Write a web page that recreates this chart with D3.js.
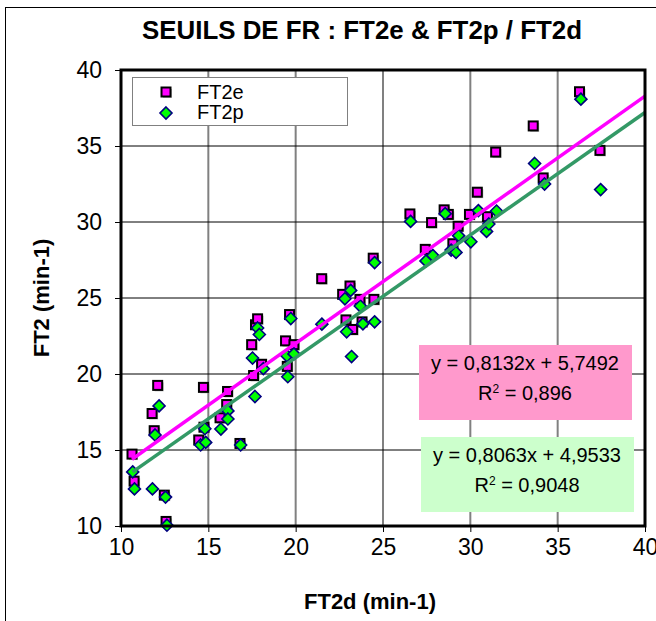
<!DOCTYPE html>
<html>
<head>
<meta charset="utf-8">
<script src="https://cdn.jsdelivr.net/npm/d3@7/dist/d3.min.js"></script>
<style>
  body { margin: 0; background: #fff; }
  svg text { font-family: "Liberation Sans", Arial, sans-serif; }
</style>
</head>
<body>
<div id="chart"></div>
<script>

//  Data

// FT2e points : [FT2d, FT2e]
var ft2e = [
    [10.63, 14.73], [10.75, 12.95], [11.78, 17.40], [11.90, 16.27], [12.10, 19.25],
    [12.48, 12.03], [12.58, 10.30], [14.45, 15.66], [14.75, 16.50], [14.72, 19.12],
    [15.67, 17.12], [16.10, 18.85], [16.05, 17.99], [16.81, 15.43], [17.48, 21.93],
    [17.59, 19.90], [17.70, 23.24], [17.82, 23.63], [18.05, 20.64], [19.42, 22.18],
    [19.90, 21.93], [19.65, 23.91], [19.52, 20.50], [21.49, 26.27], [22.69, 25.24],
    [23.11, 25.79], [23.68, 24.91], [24.48, 24.91], [22.88, 23.56], [23.26, 22.93],
    [23.80, 23.43], [24.44, 27.62], [26.54, 30.53], [27.42, 28.20], [27.78, 29.96],
    [28.50, 30.80], [28.74, 30.50], [29.00, 28.57], [29.30, 29.72], [29.95, 30.50],
    [30.40, 31.96], [30.98, 30.35], [31.45, 34.60], [33.60, 36.32], [34.17, 32.90],
    [36.25, 38.57], [37.42, 34.71]
];

// FT2p points : [FT2d, FT2p]
var ft2p = [
    [10.67, 13.56], [10.77, 12.44], [11.80, 12.44], [11.95, 15.99], [12.18, 17.90],
    [12.55, 11.90], [12.63, 10.05], [14.56, 15.33], [14.80, 16.40], [14.85, 15.50],
    [15.72, 16.38], [16.12, 17.57], [16.12, 17.04], [16.85, 15.33], [17.53, 21.05],
    [17.67, 18.52], [17.82, 23.03], [17.92, 22.60], [18.15, 20.35], [19.50, 21.20],
    [19.90, 21.32], [19.72, 23.65], [19.55, 19.82], [21.50, 23.28], [22.82, 24.95],
    [23.15, 25.50], [23.70, 24.47], [24.52, 23.43], [22.92, 22.78], [23.20, 21.15],
    [23.85, 23.30], [24.52, 27.33], [26.58, 30.04], [27.46, 27.44], [27.85, 27.80],
    [28.56, 30.55], [28.90, 28.15], [29.18, 28.00], [29.33, 29.10], [30.03, 28.70],
    [30.46, 30.75], [30.93, 29.38], [31.06, 29.87], [31.50, 30.72], [33.68, 33.85],
    [34.25, 32.50], [36.33, 38.08], [37.46, 32.13]
];

// trendlines : slope, intercept
var trendE = { a: 0.8132, b: 5.7492, r2: "0,896", eq: "y = 0,8132x + 5,7492" };
var trendP = { a: 0.8063, b: 4.9533, r2: "0,9048", eq: "y = 0,8063x + 4,9533" };

var tickValues = [10, 15, 20, 25, 30, 35, 40];
var seriesNames = ["FT2e", "FT2p"];


//  Drawing

var w = 656;
var h = 621;
var plot = { left: 121, right: 645, top: 70, bottom: 526 };

var svg = d3.select("#chart")
    .append("svg")
    .attr("width", w)
    .attr("height", h);

// outer chart frame (runs past the right and bottom edges)
svg.append("rect")
    .attr("x", 5.5).attr("y", 7.5)
    .attr("width", 720).attr("height", 720)
    .attr("fill", "#fff")
    .attr("stroke", "#000")
    .attr("stroke-width", 1);

var x = d3.scaleLinear().domain([10, 40]).range([plot.left, plot.right]);
var y = d3.scaleLinear().domain([10, 40]).range([plot.bottom, plot.top]);

// title
svg.append("text")
    .attr("x", 362).attr("y", 39)
    .attr("text-anchor", "middle")
    .attr("font-size", 25)
    .attr("font-weight", "bold")
    .attr("textLength", 440)
    .attr("lengthAdjust", "spacingAndGlyphs")
    .text("SEUILS DE FR : FT2e & FT2p / FT2d");

// gridlines
svg.append("g")
    .selectAll("line")
    .data(tickValues.slice(1, -1))
    .enter()
    .append("line")
    .attr("x1", function(d) { return x(d); })
    .attr("x2", function(d) { return x(d); })
    .attr("y1", plot.top).attr("y2", plot.bottom)
    .attr("stroke", "#808080")
    .attr("stroke-width", 2);

svg.append("g")
    .selectAll("line")
    .data(tickValues.slice(1, -1))
    .enter()
    .append("line")
    .attr("x1", plot.left).attr("x2", plot.right)
    .attr("y1", function(d) { return y(d); })
    .attr("y2", function(d) { return y(d); })
    .attr("stroke", "#000")
    .attr("stroke-width", 1);

// Axes
var xAxis = d3.axisBottom(x).tickValues(tickValues).tickSize(6).tickPadding(7);
var yAxis = d3.axisLeft(y).tickValues(tickValues).tickSize(6).tickPadding(13);

var gx = svg.append("g")
    .attr("transform", "translate(0," + plot.bottom + ")")
    .call(xAxis);
var gy = svg.append("g")
    .attr("transform", "translate(" + plot.left + ",0)")
    .call(yAxis);

[gx, gy].forEach(function(g) {
    g.select(".domain").remove();
    g.selectAll(".tick line").attr("stroke", "#000").attr("stroke-width", 1);
    g.selectAll(".tick text")
        .attr("font-size", 23)
        .attr("fill", "#000")
        .style("font-family", "'Liberation Sans', Arial, sans-serif");
});

// axis titles
svg.append("text")
    .attr("x", 370).attr("y", 609)
    .attr("text-anchor", "middle")
    .attr("font-size", 22)
    .attr("font-weight", "bold")
    .text("FT2d (min-1)");

svg.append("text")
    .attr("transform", "translate(49,298) rotate(-90)")
    .attr("text-anchor", "middle")
    .attr("font-size", 22)
    .attr("font-weight", "bold")
    .text("FT2 (min-1)");

// markers
var sq = 9;

function drawSquare(g, cx, cy) {
    g.append("rect")
        .attr("x", cx - sq / 2 + 1.5).attr("y", cy - sq / 2 + 1.5)
        .attr("width", sq).attr("height", sq)
        .attr("fill", "#9a9a9a").attr("opacity", 0.6);
    g.append("rect")
        .attr("x", cx - sq / 2).attr("y", cy - sq / 2)
        .attr("width", sq).attr("height", sq)
        .attr("fill", "#ff00ff")
        .attr("stroke", "#000")
        .attr("stroke-width", 2);
}

function drawDiamond(g, cx, cy) {
    var r = 6;
    g.append("path")
        .attr("d", "M" + cx + "," + (cy - r) + "L" + (cx + r) + "," + cy +
                   "L" + cx + "," + (cy + r) + "L" + (cx - r) + "," + cy + "Z")
        .attr("fill", "#00ff00")
        .attr("stroke", "#000080")
        .attr("stroke-width", 1.6);
}

var gE = svg.append("g");
ft2e.forEach(function(d) { drawSquare(gE, x(d[0]), y(d[1])); });

var gP = svg.append("g");
ft2p.forEach(function(d) { drawDiamond(gP, x(d[0]), y(d[1])); });

// trendlines, from the smallest FT2d to the end of the axis
function drawTrend(t, data, color) {
    var x0 = d3.min(data, function(d) { return d[0]; });
    var pts = [x0, 40];
    svg.append("line")
        .attr("x1", x(pts[0])).attr("y1", y(t.a * pts[0] + t.b))
        .attr("x2", x(pts[1])).attr("y2", y(t.a * pts[1] + t.b))
        .attr("stroke", color)
        .attr("stroke-width", 3.5);
}
drawTrend(trendE, ft2e, "#ff00ff");
drawTrend(trendP, ft2p, "#339966");

// plot area border
svg.append("rect")
    .attr("x", plot.left).attr("y", plot.top)
    .attr("width", plot.right - plot.left)
    .attr("height", plot.bottom - plot.top)
    .attr("fill", "none")
    .attr("stroke", "#000")
    .attr("stroke-width", 3);

// equation labels
function drawLabel(t, bx, by, fill) {
    svg.append("rect")
        .attr("x", bx).attr("y", by)
        .attr("width", 213).attr("height", 75)
        .attr("fill", fill);
    svg.append("text")
        .attr("x", bx + 106).attr("y", by + 25)
        .attr("text-anchor", "middle")
        .attr("font-size", 20)
        .text(t.eq);
    var r = svg.append("text")
        .attr("x", bx + 106).attr("y", by + 55)
        .attr("text-anchor", "middle")
        .attr("font-size", 20);
    r.append("tspan").text("R");
    r.append("tspan").attr("font-size", 12).attr("dy", -7).text("2");
    r.append("tspan").attr("dy", 7).text(" = " + t.r2);
}
drawLabel(trendE, 419, 345, "#ff99cc");
drawLabel(trendP, 421, 437, "#ccffcc");

// legend
var legend = svg.append("g");
legend.append("rect")
    .attr("x", 132.5).attr("y", 77.5)
    .attr("width", 215).attr("height", 48)
    .attr("fill", "#fff")
    .attr("stroke", "#808080")
    .attr("stroke-width", 1);
drawSquare(legend, 166, 92);
drawDiamond(legend, 166, 113);
seriesNames.forEach(function(name, i) {
    legend.append("text")
        .attr("x", 197).attr("y", 99 + i * 20)
        .attr("font-size", 20)
        .text(name);
});

</script>
</body>
</html>
